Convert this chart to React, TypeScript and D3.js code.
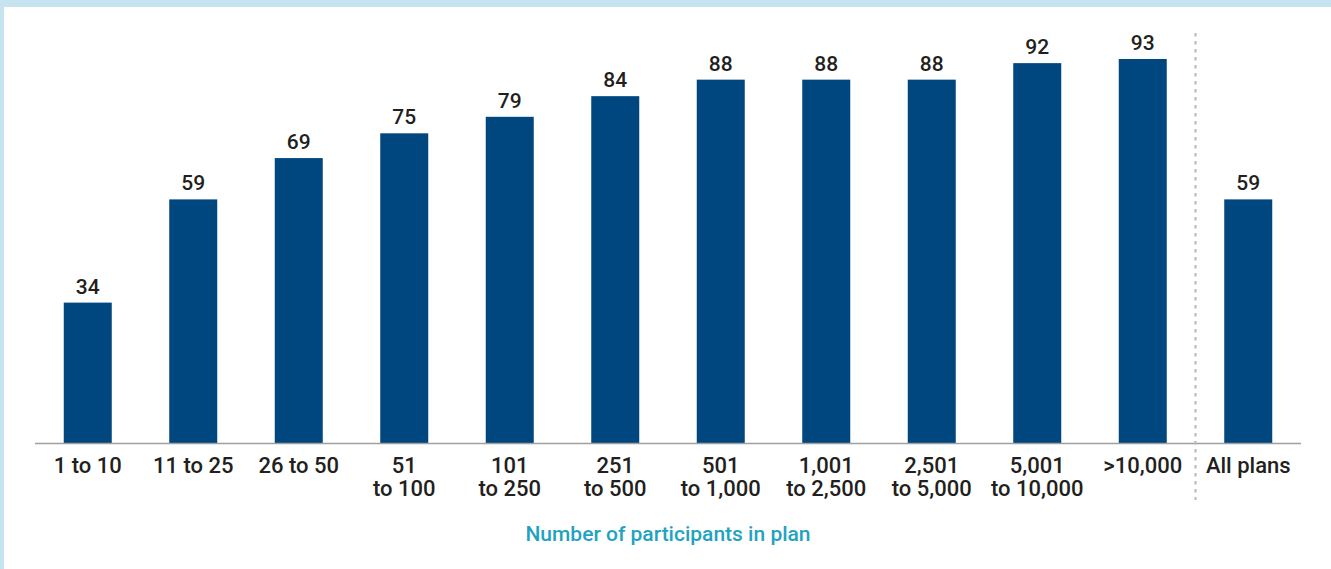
import * as d3 from 'd3';
import * as React from 'react';

const categories: string[][] = [
  ['1 to 10'],
  ['11 to 25'],
  ['26 to 50'],
  ['51', 'to 100'],
  ['101', 'to 250'],
  ['251', 'to 500'],
  ['501', 'to 1,000'],
  ['1,001', 'to 2,500'],
  ['2,501', 'to 5,000'],
  ['5,001', 'to 10,000'],
  ['>10,000'],
  ['All plans'],
];
const values: number[] = [34, 59, 69, 75, 79, 84, 88, 88, 88, 92, 93, 59];
const axisTitle = 'Number of participants in plan';

const W = 1331;
const H = 569;
const FONT = 'Roboto, "DejaVu Sans Condensed", sans-serif';

export default function App(): JSX.Element {
  const keys = categories.map((c) => c.join(' '));
  const x = d3.scaleBand<string>()
    .domain(keys)
    .range([35, 1301])
    .paddingInner(0.545)
    .paddingOuter(0.2725);
  const y = d3.scaleLinear().domain([0, 93]).range([443, 59]);

  const sepX = (x(keys[10])! + x.bandwidth() + x(keys[11])!) / 2;

  return (
    <svg width={W} height={H} style={{ position: 'absolute', left: 0, top: 0 }}>
      <rect x={0} y={0} width={W} height={H} fill='#fff' />
      <rect x={0} y={0} width={W} height={7} fill='#c6e3ef' />
      <rect x={0} y={0} width={4} height={H} fill='#c6e3ef' />

      {values.map((v, i) => (
        <g key={i}>
          <rect
            x={x(keys[i])}
            y={y(v)}
            width={x.bandwidth()}
            height={y(0) - y(v)}
            fill='#00467f'
          />
          <text
            x={x(keys[i])! + x.bandwidth() / 2}
            y={y(v) - 9}
            textAnchor='middle'
            fontFamily={FONT}
            fontWeight={500}
            fontSize={21}
            fill='#231f20'
          >
            {v}
          </text>
        </g>
      ))}

      <line x1={35} x2={1301} y1={443.5} y2={443.5} stroke='#a0a0a0' strokeWidth={1.5} />
      <line
        x1={sepX}
        x2={sepX}
        y1={33}
        y2={500}
        stroke='#b8b8b8'
        strokeWidth={2}
        strokeDasharray='3.5 4.5'
      />

      {categories.map((lines, i) => (
        <text
          key={i}
          x={x(keys[i])! + x.bandwidth() / 2}
          y={473}
          textAnchor='middle'
          fontFamily={FONT}
          fontWeight={500}
          fontSize={22}
          fill='#231f20'
        >
          {lines.map((l, j) => (
            <tspan key={j} x={x(keys[i])! + x.bandwidth() / 2} dy={j === 0 ? 0 : 23}>
              {l}
            </tspan>
          ))}
        </text>
      ))}

      <text
        x={(35 + 1301) / 2}
        y={541}
        textAnchor='middle'
        fontFamily={FONT}
        fontWeight={500}
        fontSize={21}
        fill='#1fa3bf'
      >
        {axisTitle}
      </text>
    </svg>
  );
}
